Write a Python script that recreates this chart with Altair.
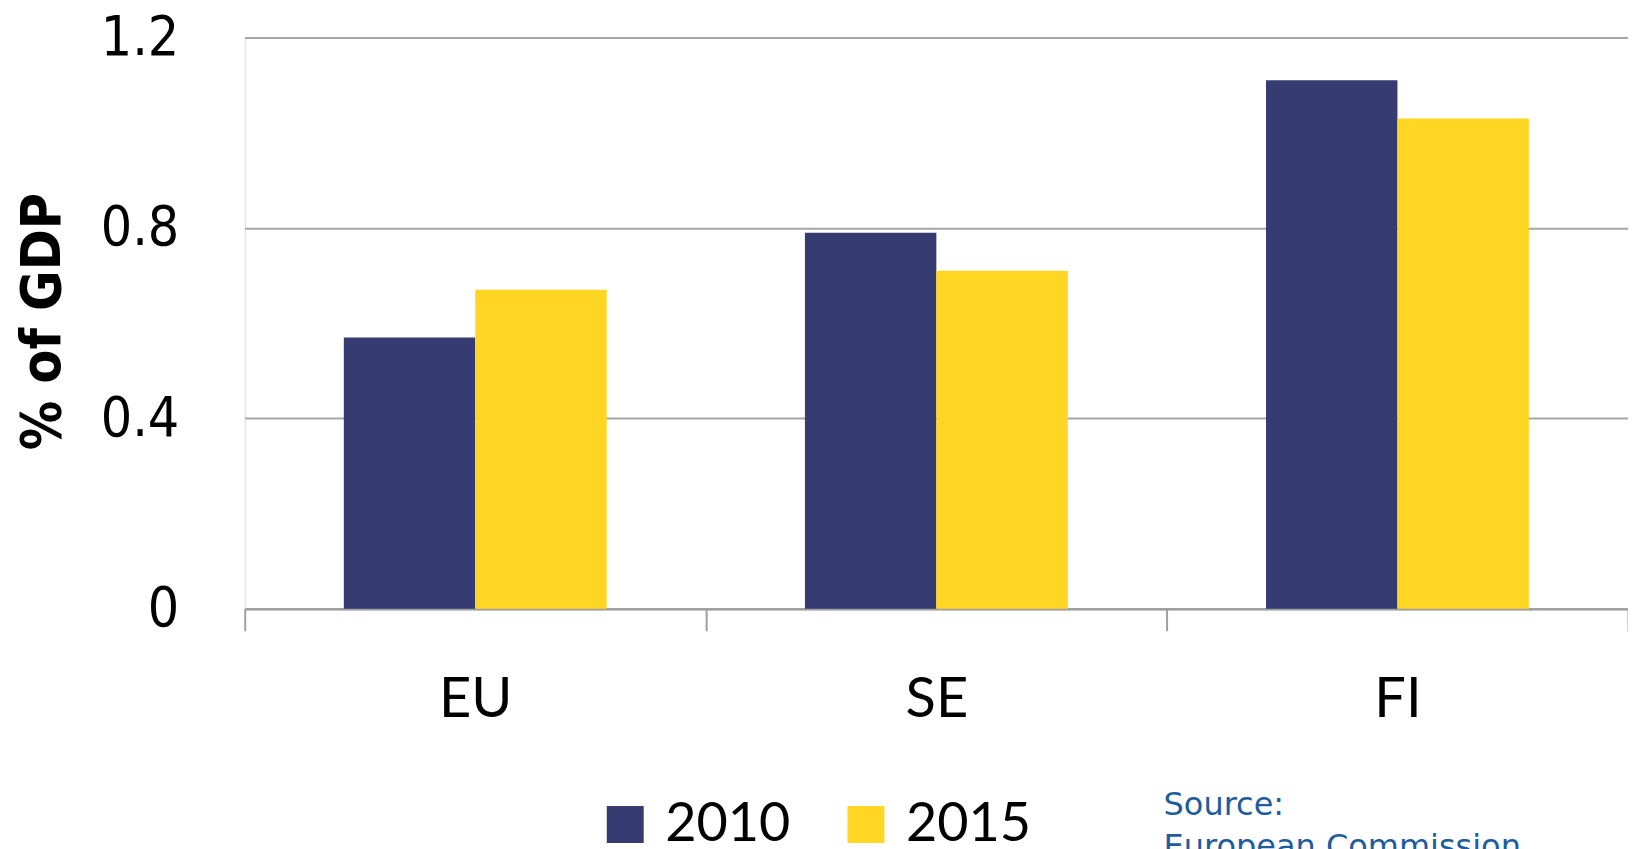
import altair as alt
import pandas as pd

regions = ["EU", "SE", "FI"]
years = ["2010", "2015"]
values_2010 = [0.57, 0.79, 1.11]
values_2015 = [0.67, 0.71, 1.03]
y_ticks = [0, 0.4, 0.8, 1.2]
colors = ["#363C72", "#FFD624"]
source_lines = ["Source:", "European Commission,"]

rows = []
for r, a, b in zip(regions, values_2010, values_2015):
    rows.append({"region": r, "year": "2010", "value": a})
    rows.append({"region": r, "year": "2015", "value": b})
df = pd.DataFrame(rows)

W, H = 1385, 572

bars = alt.Chart(df).mark_bar().encode(
    x=alt.X("region:N", sort=regions, title=None,
            scale=alt.Scale(paddingInner=0, paddingOuter=0),
            axis=alt.Axis(labelAngle=0, tickBand="extent", tickSize=22, tickWidth=2,
                          tickColor="#a0a0a0", domainColor="#a0a0a0", domainWidth=2.5,
                          labelFont="Lato", labelFontSize=56, labelColor="#000000",
                          labelBaseline="alphabetic", labelPadding=86, grid=False)),
    xOffset=alt.XOffset("year:N", sort=years,
                        scale=alt.Scale(paddingInner=0, paddingOuter=0.754)),
    y=alt.Y("value:Q", title="% of GDP",
            scale=alt.Scale(domain=[0, 1.2], nice=False, zero=True),
            axis=alt.Axis(values=y_ticks, format=".1~f", domain=False, ticks=False,
                          grid=True, gridColor="#a6a6a6", gridWidth=2,
                          labelFont="DejaVu Sans Condensed, DejaVu Sans", labelFontSize=55,
                          labelColor="#000000", labelPadding=66,
                          titleFont="DejaVu Sans Condensed, DejaVu Sans", titleFontSize=55,
                          titleFontWeight="bold", titleColor="#000000",
                          titleX=-202, titleY=284, titleAngle=-90,
                          titleAlign="center", titleBaseline="middle")),
    color=alt.Color("year:N", sort=years, title=None,
                    scale=alt.Scale(domain=years, range=colors),
                    legend=alt.Legend(orient="none", direction="horizontal",
                                      legendX=354, legendY=761, padding=0,
                                      symbolType="square", symbolSize=1369,
                                      symbolStrokeWidth=0, symbolOpacity=1,
                                      labelFont="Lato", labelFontSize=54,
                                      labelColor="#000000", labelOffset=13,
                                      columnPadding=48)),
)

src = alt.Chart(pd.DataFrame({"t": [0]})).mark_text(
    align="left", baseline="alphabetic", font="DejaVu Sans", fontSize=32,
    color="#1F5C9E", lineHeight=43,
).encode(
    x=alt.value(920), y=alt.value(778), text=alt.value(source_lines)
)

chart = alt.layer(bars, src).properties(
    width=W, height=H,
    autosize=alt.AutoSizeParams(type="none"),
    padding={"left": 237, "top": 29, "right": 0, "bottom": 260},
).configure_view(stroke=None).configure(background="white")

chart.save("out.html", embed_options={"renderer": "svg", "actions": False})
